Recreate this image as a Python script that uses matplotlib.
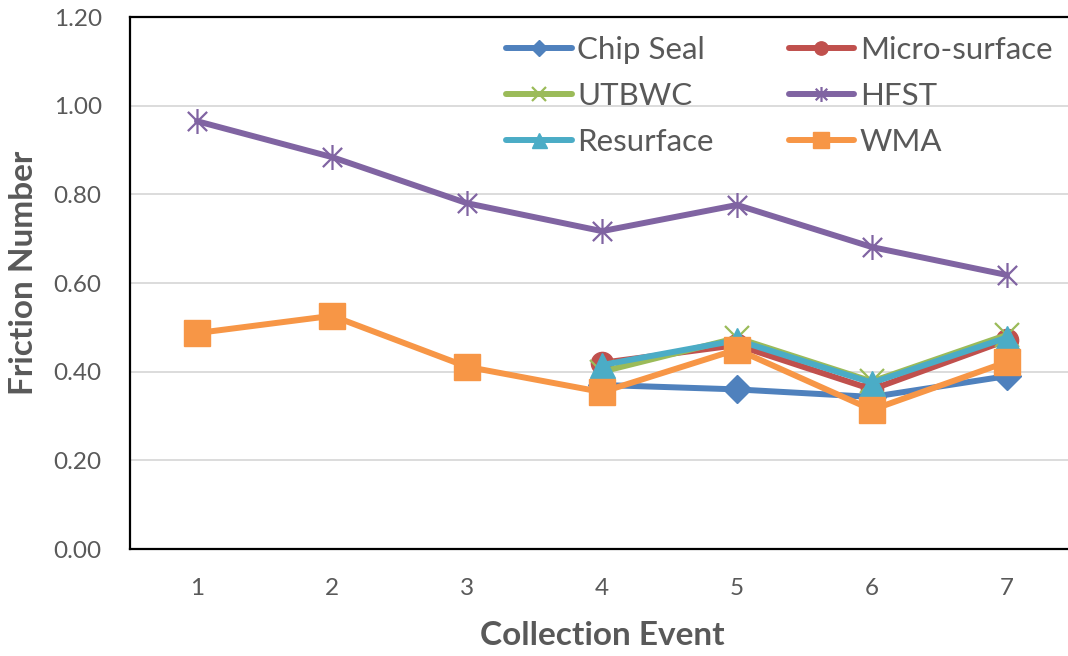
import matplotlib
matplotlib.use("Agg")
import matplotlib.pyplot as plt
from matplotlib.path import Path
import numpy as np

plt.rcParams['font.family'] = ['Lato', 'DejaVu Sans']

events = [1, 2, 3, 4, 5, 6, 7]
x_labels = ["1", "2", "3", "4", "5", "6", "7"]
y_ticks = [0.0, 0.2, 0.4, 0.6, 0.8, 1.0, 1.2]

chip_seal_x = [4, 5, 6, 7]
chip_seal = [0.37, 0.36, 0.343, 0.39]
micro_x = [4, 5, 6, 7]
micro = [0.42, 0.46, 0.36, 0.471]
utbwc_x = [4, 5, 6, 7]
utbwc = [0.40, 0.476, 0.378, 0.483]
hfst_x = [1, 2, 3, 4, 5, 6, 7]
hfst = [0.965, 0.884, 0.780, 0.717, 0.776, 0.681, 0.618]
resurf_x = [4, 5, 6, 7]
resurf = [0.415, 0.471, 0.375, 0.477]
wma_x = [1, 2, 3, 4, 5, 6, 7]
wma = [0.487, 0.526, 0.411, 0.354, 0.45, 0.314, 0.422]

W, H = 1068, 656
fig = plt.figure(figsize=(W / 100, H / 100), dpi=100)
ax = fig.add_axes([129.5 / W, (H - 549) / H, (1074.5 - 129.5) / W, (549 - 17) / H])

star = Path([(-1, -1), (1, 1), (-1, 1), (1, -1), (0, -1.3), (0, 1.3)],
            [Path.MOVETO, Path.LINETO] * 3)

lw = 4.3
series = [
    ("Chip Seal", chip_seal_x, chip_seal, "#4F81BD", "D", 14, {}),
    ("Micro-surface", micro_x, micro, "#C0504D", "o", 16, {}),
    ("UTBWC", utbwc_x, utbwc, "#9BBB59", "x", 17, {"markeredgewidth": 1.6}),
    ("HFST", hfst_x, hfst, "#8064A2", star, 18, {"markeredgewidth": 1.6, "markerfacecolor": "none"}),
    ("Resurface", resurf_x, resurf, "#4BACC6", "^", 18, {}),
    ("WMA", wma_x, wma, "#F79646", "s", 19, {}),
]
handles = {}
for name, xs, ys, c, m, ms, kw in series:
    opts = dict(color=c, lw=lw, marker=m, markersize=ms, markeredgecolor=c,
                markerfacecolor=c, solid_capstyle="round", solid_joinstyle="round")
    opts.update(kw)
    h, = ax.plot(xs, ys, label=name, **opts)
    handles[name] = h

ax.set_xlim(0.5, 7.5)
ax.set_ylim(0, 1.2)
ax.set_xticks(events)
ax.set_xticklabels(x_labels)
ax.set_yticks(y_ticks)
ax.set_yticklabels([f"{v:.2f}" for v in y_ticks])
ax.tick_params(axis="both", length=0, labelsize=17.5, labelcolor="#595959")
ax.tick_params(axis="y", pad=20)
ax.tick_params(axis="x", pad=21)
ax.grid(axis="y", color="#D9D9D9", lw=1.3)
ax.set_axisbelow(True)
for s in ["left", "bottom", "top"]:
    ax.spines[s].set_color("black")
    ax.spines[s].set_linewidth(1.6)
ax.spines["right"].set_visible(False)

ax.set_xlabel("Collection Event", fontsize=24, fontweight="bold", color="#595959", labelpad=16)
ax.set_ylabel("Friction Number", fontsize=24, fontweight="bold", color="#595959", labelpad=11)
ax.yaxis.label.set_y((549 - 273) / 532)

order = ["Chip Seal", "UTBWC", "Resurface", "Micro-surface", "HFST", "WMA"]
leg = ax.legend([handles[n] for n in order], order, ncol=2, loc="upper left",
                bbox_to_anchor=(484 / W, 1 - 14 / H),
                bbox_transform=fig.transFigure, frameon=False, fontsize=22.5,
                handlelength=2.1, handletextpad=0.18, columnspacing=2.4,
                labelspacing=0.58, borderpad=0.2, markerscale=0.6)
for t in leg.get_texts():
    t.set_color("#595959")

fig.savefig("out.png", dpi=100)
